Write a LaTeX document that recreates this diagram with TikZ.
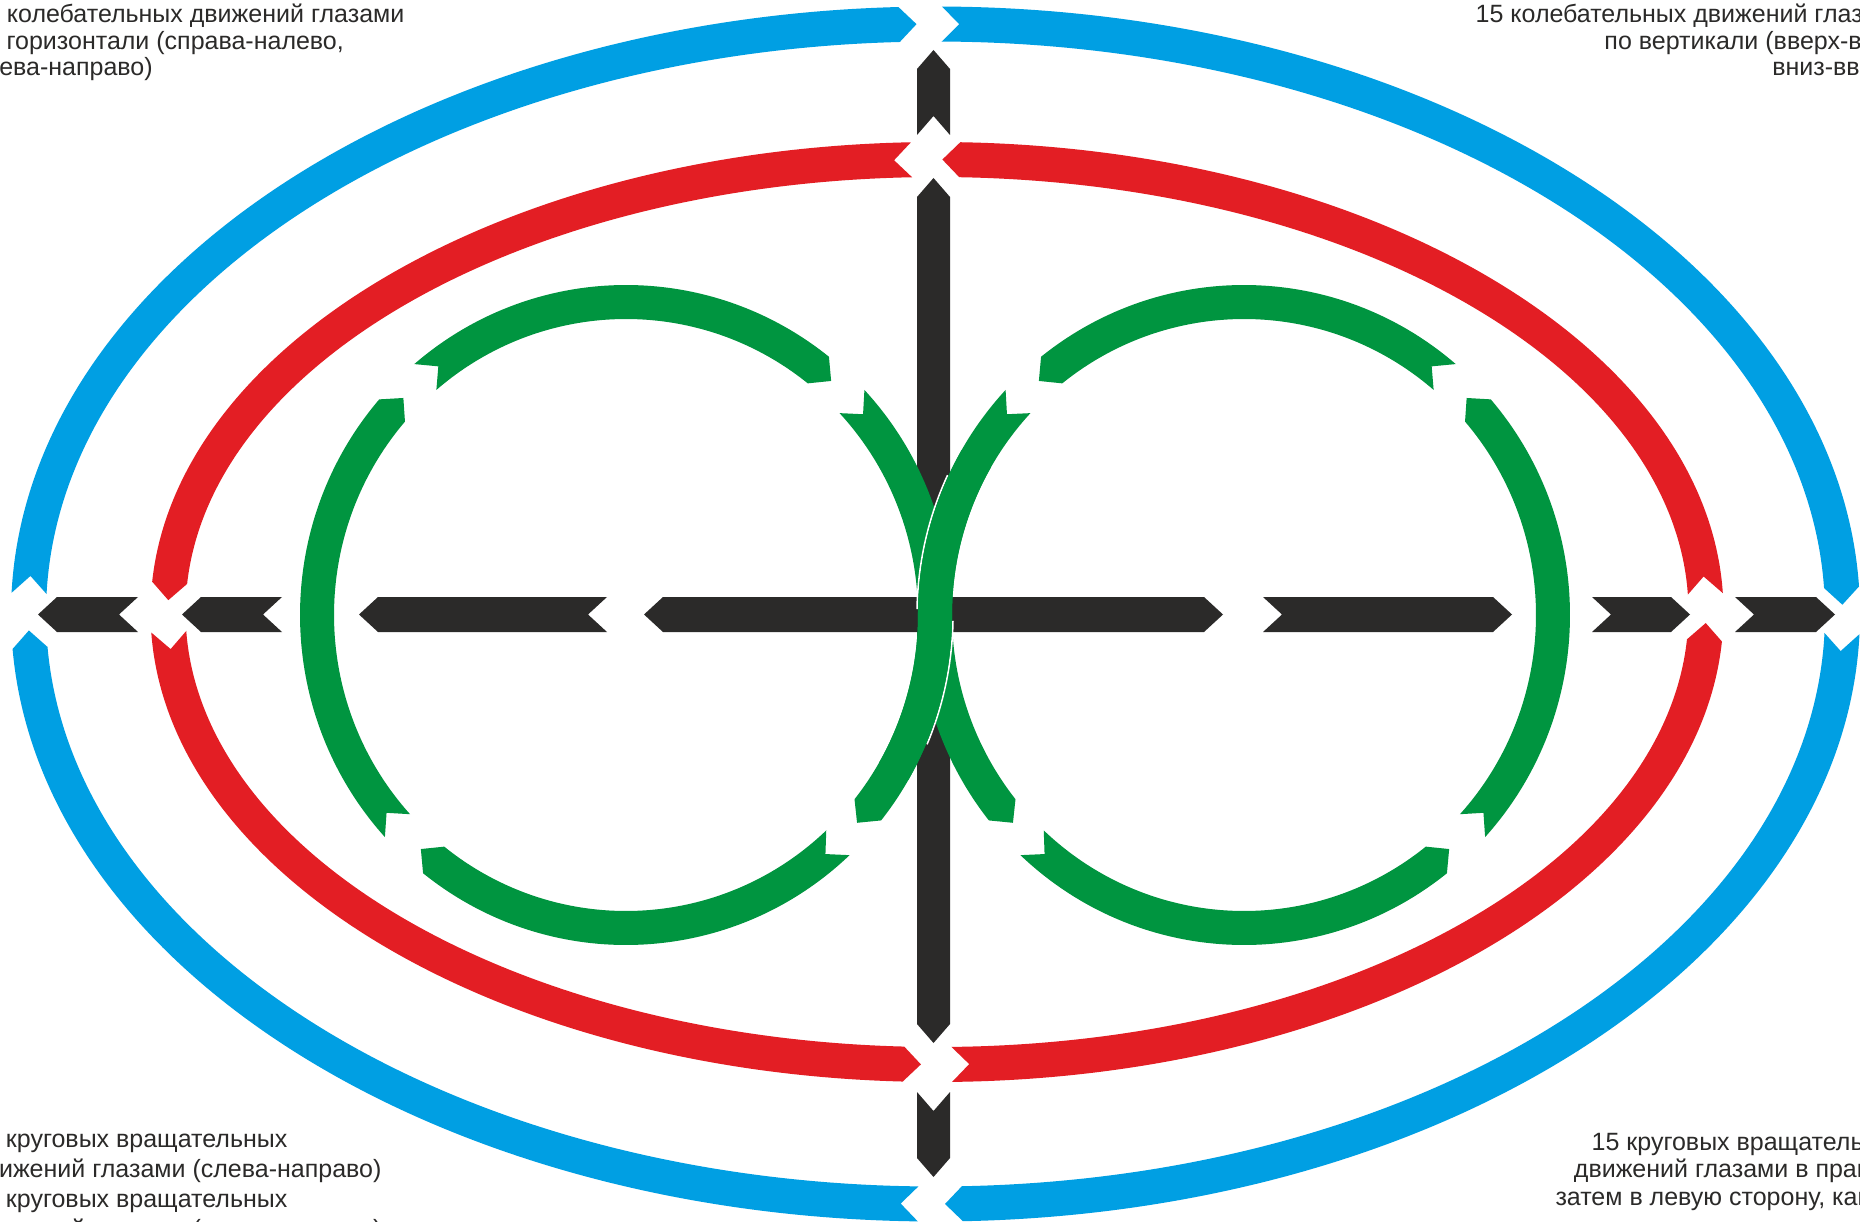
\documentclass[tikz,border=0pt]{standalone}
\usepackage{fontspec}
\setmainfont{Liberation Sans}
\definecolor{cblue}{HTML}{009FE3}
\definecolor{cred}{HTML}{E31E24}
\definecolor{cgreen}{HTML}{009540}
\definecolor{cblack}{HTML}{2B2A29}
\definecolor{ctext}{HTML}{2B2A29}
\newcommand{\setband}[3]{\pgfmathsetmacro\Ao{#1+#3}\pgfmathsetmacro\Bo{#2+#3}\pgfmathsetmacro\Ai{#1-#3}\pgfmathsetmacro\Bi{#2-#3}\def\Ac{#1}\def\Bc{#2}}
% #1 colour, #2 tail angle, #3 tail offset, #4 tip angle, #5 tip offset
\newcommand{\bandseg}[5]{%
 \fill[#1] (#2:\Ao pt and \Bo pt) arc[start angle=#2, end angle=#4, x radius=\Ao pt, y radius=\Bo pt]
   -- ({#4+(#5)}:\Ac pt and \Bc pt) -- (#4:\Ai pt and \Bi pt)
   arc[start angle=#4, end angle=#2, x radius=\Ai pt, y radius=\Bi pt]
   -- ({#2+(#3)}:\Ac pt and \Bc pt) -- cycle;}
% plain band piece between two angles
\newcommand{\bandplain}[3]{%
 \fill[#1] (#2:\Ao pt and \Bo pt) arc[start angle=#2, end angle=#3, x radius=\Ao pt, y radius=\Bo pt]
   -- (#3:\Ai pt and \Bi pt) arc[start angle=#3, end angle=#2, x radius=\Ai pt, y radius=\Bi pt] -- cycle;}
\tikzset{txt/.style={font=\fontsize{25}{30}\selectfont, text=ctext, inner sep=0pt}}
\begin{document}
\begin{tikzpicture}[x=1pt,y=1pt]
\useasboundingbox (0,0) rectangle (1860,-1222);
\fill[white] (0,0) rectangle (1860,-1222);
\clip (0,0) rectangle (1860,-1222);

% blue ring (clockwise)
\begin{scope}[shift={(935.5,-614)}]
\setband{907}{590}{17.5}
\bandseg{cblue}{178.0}{-1.7}{92.3}{-1.1}
\bandseg{cblue}{89.6}{-1.1}{2.6}{-1.7}
\bandseg{cblue}{-1.9}{-1.7}{-88.3}{-1.1}
\bandseg{cblue}{-91.1}{-1.1}{-176.7}{-1.7}
\end{scope}

% red ring (counter-clockwise)
\begin{scope}[shift={(937,-612)}]
\setband{769}{452.5}{17.5}
\bandseg{cred}{2.3}{2.2}{88.3}{1.3}
\bandseg{cred}{91.9}{1.3}{176.3}{2.2}
\bandseg{cred}{182.5}{2.2}{267.5}{1.3}
\bandseg{cred}{271.1}{1.3}{356.4}{2.2}
\end{scope}

% black horizontal bar pieces
\fill[cblack] (38,-614.5) -- (57,-597) -- (138,-597) -- (119,-614.5) -- (138,-632) -- (57,-632) -- cycle;
\fill[cblack] (182,-614.5) -- (201,-597) -- (282,-597) -- (263,-614.5) -- (282,-632) -- (201,-632) -- cycle;
\fill[cblack] (359,-614.5) -- (378,-597) -- (607,-597) -- (588,-614.5) -- (607,-632) -- (378,-632) -- cycle;
\fill[cblack] (644,-614.5) -- (663,-597) -- (1204,-597) -- (1223,-614.5) -- (1204,-632) -- (663,-632) -- cycle;
\fill[cblack] (1263,-597) -- (1493,-597) -- (1512,-614.5) -- (1493,-632) -- (1263,-632) -- (1282,-614.5) -- cycle;
\fill[cblack] (1592,-597) -- (1671,-597) -- (1690,-614.5) -- (1671,-632) -- (1592,-632) -- (1611,-614.5) -- cycle;
\fill[cblack] (1735,-597) -- (1816,-597) -- (1835,-614.5) -- (1816,-632) -- (1735,-632) -- (1754,-614.5) -- cycle;
% black vertical bar pieces
\fill[cblack] (933.5,-50) -- (950,-69) -- (950,-135) -- (933.5,-116) -- (917,-135) -- (917,-69) -- cycle;
\fill[cblack] (933.5,-178) -- (950,-197) -- (950,-1024) -- (933.5,-1043) -- (917,-1024) -- (917,-197) -- cycle;
\fill[cblack] (917,-1092) -- (933.5,-1111) -- (950,-1092) -- (950,-1158) -- (933.5,-1177) -- (917,-1158) -- cycle;

% green left loop (clockwise)
\begin{scope}[shift={(626,-615)}]
\setband{309}{313}{17}
\bandseg{cgreen}{130.5}{-3.1}{51.5}{-3.1}
\bandseg{cgreen}{222.3}{-3.1}{139.2}{-3.1}
\bandseg{cgreen}{313.3}{-3.1}{231.5}{-3.1}
\bandseg{cgreen}{43}{-3.1}{-38.5}{-3.1}
\end{scope}
% green right loop (counter-clockwise)
\begin{scope}[shift={(1244,-615)}]
\setband{309}{313}{17}
\bandseg{cgreen}{49.5}{3.1}{128.5}{3.1}
\bandseg{cgreen}{-42.3}{3.1}{40.8}{3.1}
\bandseg{cgreen}{226.7}{3.1}{308.5}{3.1}
\bandseg{cgreen}{137}{3.1}{218.5}{3.1}
\end{scope}
% weave: S strand on top, edged in white
\begin{scope}[shift={(1244,-615)}]
\draw[white, line width=1.6pt] (155:327pt and 331pt) arc[start angle=155, end angle=179, x radius=327pt, y radius=331pt];
\end{scope}
\begin{scope}[shift={(626,-615)}]
\draw[white, line width=1.6pt] (-1:327pt and 331pt) arc[start angle=-1, end angle=-23, x radius=327pt, y radius=331pt];
\end{scope}
\begin{scope}[shift={(1244,-615)}]
\setband{309}{313}{17}
\bandplain{cgreen}{150}{181}
\end{scope}
\begin{scope}[shift={(626,-615)}]
\setband{309}{313}{17}
\bandplain{cgreen}{0.5}{-30}
\end{scope}

% texts
\node[txt, anchor=base west] (tl1) at (-28,-23) {15 колебательных движений глазами};
\node[txt, anchor=base west] (tl2) at (-28,-49.5) {по горизонтали (справа-налево,};
\node[txt, anchor=base west] (tl3) at (-28,-76) {слева-направо)};
\node[txt, anchor=base east] (tr1) at (1908,-23) {15 колебательных движений глазами};
\node[txt, anchor=base east] (tr2) at (1908,-49.5) {по вертикали (вверх-вниз,};
\node[txt, anchor=base east] (tr3) at (1908,-76) {вниз-вверх)};
\node[txt, anchor=base west] (bl1) at (-29,-1147) {15 круговых вращательных};
\node[txt, anchor=base west] (bl2) at (-29,-1177) {движений глазами (слева-направо)};
\node[txt, anchor=base west] (bl3) at (-29,-1207) {15 круговых вращательных};
\node[txt, anchor=base west] (bl4) at (-29,-1237) {движений глазами (справа-налево)};
\node[txt, anchor=base east] (br1) at (1908,-1150) {15 круговых вращательных};
\node[txt, anchor=base east] (br2) at (1908,-1177) {движений глазами в правую,};
\node[txt, anchor=base east] (br3) at (1908,-1205) {затем в левую сторону, как бы};
\end{tikzpicture}
\end{document}
